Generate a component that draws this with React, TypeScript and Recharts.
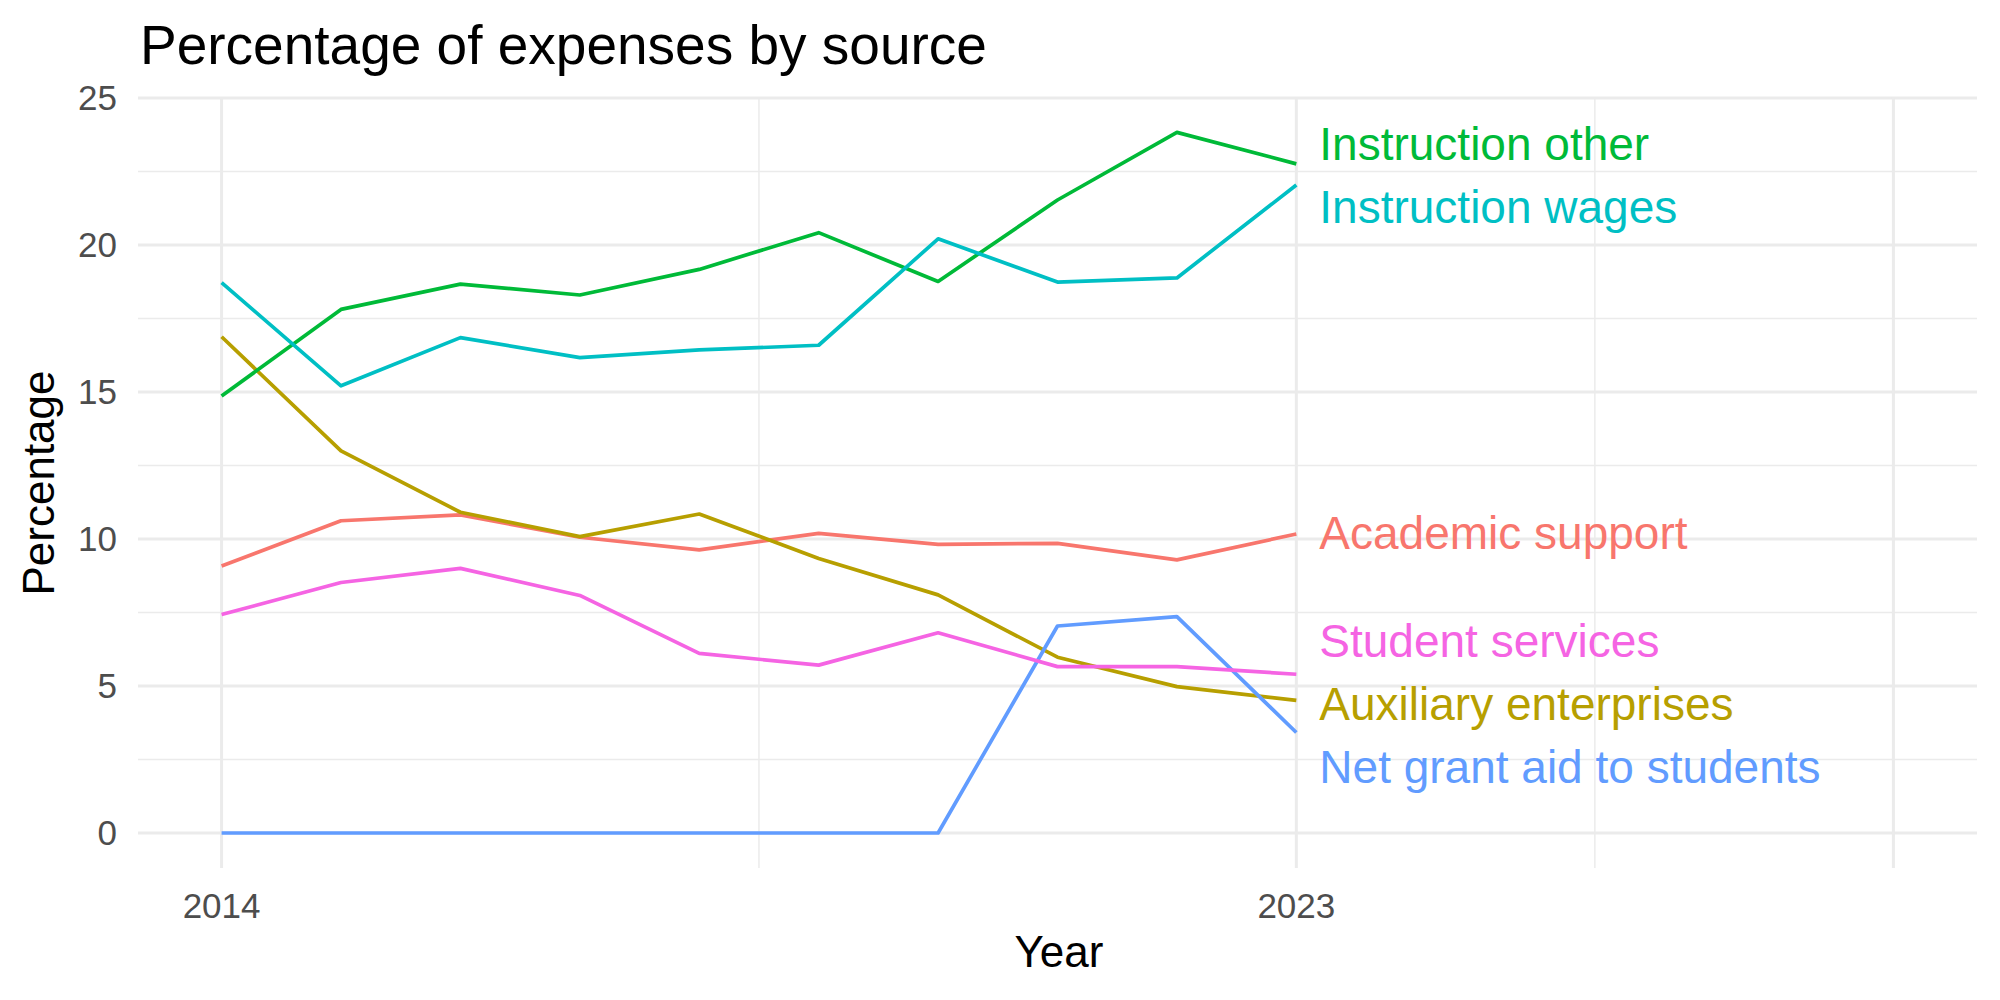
import React from "react";
import { LineChart, Line, XAxis, YAxis, ReferenceLine, LabelList } from "recharts";

const years = [2014, 2015, 2016, 2017, 2018, 2019, 2020, 2021, 2022, 2023];
const academicSupport = [9.08, 10.62, 10.82, 10.06, 9.63, 10.19, 9.82, 9.85, 9.29, 10.17];
const auxiliaryEnterprises = [16.88, 13.0, 10.91, 10.08, 10.85, 9.34, 8.1, 5.98, 4.98, 4.51];
const instructionOther = [14.86, 17.81, 18.67, 18.3, 19.17, 20.42, 18.76, 21.53, 23.83, 22.76];
const instructionWages = [18.72, 15.21, 16.85, 16.17, 16.43, 16.59, 20.21, 18.74, 18.88, 22.04];
const netGrantAid = [0, 0, 0, 0, 0, 0, 0, 7.04, 7.36, 3.42];
const studentServices = [7.43, 8.52, 9.0, 8.08, 6.11, 5.71, 6.81, 5.66, 5.66, 5.4];

const xTicks = [2014, 2023];
const yTicks = [0, 5, 10, 15, 20, 25];
const yMinor = [2.5, 7.5, 12.5, 17.5, 22.5];
const xMajorGrid = [2014, 2023, 2028];
const xMinorGrid = [2018.5, 2025.5];

const data = years.map((year, i) => ({
  year,
  academic: academicSupport[i],
  auxiliary: auxiliaryEnterprises[i],
  other: instructionOther[i],
  wages: instructionWages[i],
  net: netGrantAid[i],
  student: studentServices[i],
}));

const FONT = "'Liberation Sans', Arial, Helvetica, sans-serif";

const series = [
  { key: "academic", name: "Academic support", color: "#F8766D", dy: 15 },
  { key: "auxiliary", name: "Auxiliary enterprises", color: "#B79F00", dy: 20 },
  { key: "other", name: "Instruction other", color: "#00BA38", dy: -4 },
  { key: "wages", name: "Instruction wages", color: "#00BFC4", dy: 38 },
  { key: "net", name: "Net grant aid to students", color: "#619CFF", dy: 51 },
  { key: "student", name: "Student services", color: "#F564E3", dy: -17 },
];

const endLabel = (text: string, color: string, dy: number) => (props: any) => {
  const { index, x, y, viewBox } = props;
  if (index !== years.length - 1) return null;
  const px = typeof x === "number" ? x : viewBox?.x;
  const py = typeof y === "number" ? y : viewBox?.y;
  if (typeof px !== "number" || typeof py !== "number") return null;
  return (
    <text x={px + 23} y={py + dy} fill={color} fontSize={46} fontFamily={FONT}>
      {text}
    </text>
  );
};

export default function App() {
  return (
    <div style={{ position: "absolute", left: 0, top: 0, width: 2000, height: 1000, background: "#fff" }}>
      <LineChart
        width={2000}
        height={1000}
        data={data}
        margin={{ top: 97.4, right: 23, left: 0, bottom: 0 }}
      >
        {yMinor.map((v) => (
          <ReferenceLine key={"ym" + v} y={v} stroke="#EBEBEB" strokeWidth={1.5} zIndex={-50} />
        ))}
        {xMinorGrid.map((v) => (
          <ReferenceLine key={"xm" + v} x={v} stroke="#EBEBEB" strokeWidth={1.5} zIndex={-50} />
        ))}
        {yTicks.map((v) => (
          <ReferenceLine key={"yM" + v} y={v} stroke="#EBEBEB" strokeWidth={3} zIndex={-40} />
        ))}
        {xMajorGrid.map((v) => (
          <ReferenceLine key={"xM" + v} x={v} stroke="#EBEBEB" strokeWidth={3} zIndex={-40} />
        ))}
        <XAxis
          dataKey="year"
          type="number"
          domain={[2013.3, 2028.7]}
          ticks={xTicks}
          allowDataOverflow
          axisLine={false}
          tickLine={false}
          tickSize={0}
          tickMargin={25}
          height={132}
          tick={{ fontSize: 35, fill: "#4D4D4D", fontFamily: FONT }}
        />
        <YAxis
          type="number"
          domain={[-1.19, 25.02]}
          ticks={yTicks}
          allowDataOverflow
          axisLine={false}
          tickLine={false}
          tickSize={0}
          tickMargin={21}
          width={138}
          tick={{ fontSize: 35, fill: "#4D4D4D", fontFamily: FONT }}
        />
        {series.map((s) => (
          <Line
            key={s.key}
            dataKey={s.key}
            type="linear"
            stroke={s.color}
            strokeWidth={3.7}
            strokeLinejoin="round"
            dot={false}
            activeDot={false}
            isAnimationActive={false}
          >
            <LabelList dataKey={s.key} content={endLabel(s.name, s.color, s.dy)} />
          </Line>
        ))}
      </LineChart>
      <svg
        width={2000}
        height={1000}
        style={{ position: "absolute", left: 0, top: 0, pointerEvents: "none" }}
      >
        <text x={140} y={64} fontSize={55} fontFamily={FONT} fill="#000">
          Percentage of expenses by source
        </text>
        <text x={1059} y={967} fontSize={44} fontFamily={FONT} fill="#000" textAnchor="middle">
          Year
        </text>
        <text
          transform="translate(54,483) rotate(-90)"
          fontSize={44}
          fontFamily={FONT}
          fill="#000"
          textAnchor="middle"
        >
          Percentage
        </text>
      </svg>
    </div>
  );
}
